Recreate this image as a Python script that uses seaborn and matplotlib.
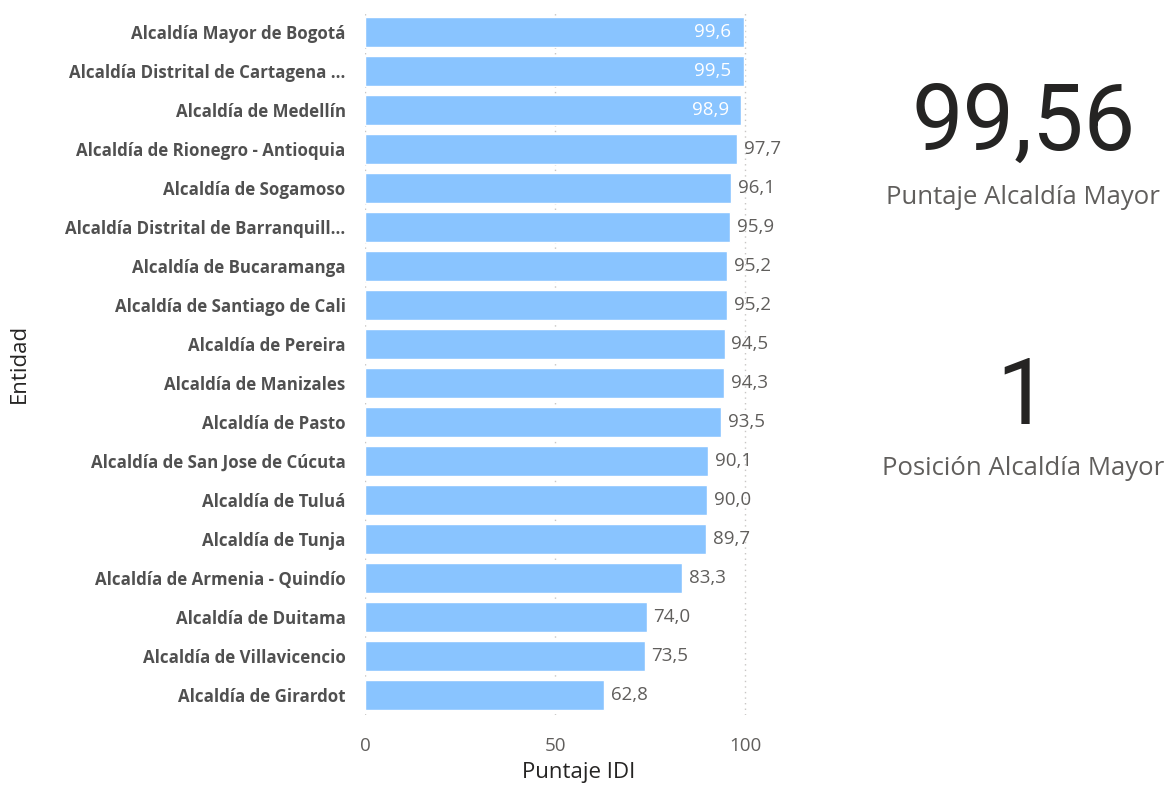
# Ranking IDI - Alcaldías
import pandas as pd
import matplotlib
matplotlib.use("Agg")
import matplotlib.pyplot as plt
import seaborn as sns

# Data
entidades = [
    "Alcaldía Mayor de Bogotá",
    "Alcaldía Distrital de Cartagena ...",
    "Alcaldía de Medellín",
    "Alcaldía de Rionegro - Antioquia",
    "Alcaldía de Sogamoso",
    "Alcaldía Distrital de Barranquill...",
    "Alcaldía de Bucaramanga",
    "Alcaldía de Santiago de Cali",
    "Alcaldía de Pereira",
    "Alcaldía de Manizales",
    "Alcaldía de Pasto",
    "Alcaldía de San Jose de Cúcuta",
    "Alcaldía de Tuluá",
    "Alcaldía de Tunja",
    "Alcaldía de Armenia - Quindío",
    "Alcaldía de Duitama",
    "Alcaldía de Villavicencio",
    "Alcaldía de Girardot",
]
puntaje = [99.6, 99.5, 98.9, 97.7, 96.1, 95.9, 95.2, 95.2, 94.5, 94.3,
           93.5, 90.1, 90.0, 89.7, 83.3, 74.0, 73.5, 62.8]
x_ticks = [0, 50, 100]

kpi_valor = "99,56"
kpi_valor_label = "Puntaje Alcaldía Mayor"
kpi_posicion = "1"
kpi_posicion_label = "Posición Alcaldía Mayor"

data = pd.DataFrame({"Entidad": entidades, "Puntaje IDI": puntaje})

# Style
sns.set_style("white")
plt.rcParams['font.family'] = ['Open Sans', 'DejaVu Sans']

grey = "#605E5C"
bar_color = "#89C4FF"

fig = plt.figure(figsize=(11.69, 7.87), dpi=100)
ax = fig.add_axes([0.3122, 0.0921, 0.345, 0.892])

sns.barplot(data=data, x="Puntaje IDI", y="Entidad", orient="h",
            color=bar_color, saturation=1, width=0.77, ax=ax, zorder=2)

ax.set_xlim(0, 106)
ax.set_ylim(len(entidades) - 0.5, -0.5)
ax.set_xticks(x_ticks)
ax.set_xticklabels([str(t) for t in x_ticks], color=grey, fontsize=13.5)
ax.tick_params(axis="x", length=0, pad=16)
ax.tick_params(axis="y", length=0, pad=14)
for lbl in ax.get_yticklabels():
    lbl.set_fontweight("bold")
    lbl.set_fontsize(12.2)
    lbl.set_color("#505050")

ax.grid(axis="x", color="#C8C6C4", linestyle=(0, (1, 3)), linewidth=1, zorder=0)
for s in ax.spines.values():
    s.set_visible(False)

ax.set_xlabel("Puntaje IDI", fontsize=16, color="#252423")
ax.xaxis.set_label_coords(0.53, -0.068)
ax.set_ylabel("Entidad", fontsize=16, color="#252423")
ax.yaxis.set_label_coords(-0.83, 0.5)

# Value labels
for i, v in enumerate(puntaje):
    txt = f"{v:.1f}".replace(".", ",")
    if v >= 98.5:
        ax.annotate(txt, (v, i), xytext=(-9, 0), textcoords="offset points",
                    ha="right", va="center", color="white", fontsize=13.5)
    else:
        ax.annotate(txt, (v, i), xytext=(5, 0), textcoords="offset points",
                    ha="left", va="center", color=grey, fontsize=13.5)

# KPI cards
fig.text(0.876, 0.842, kpi_valor, ha="center", va="center",
         fontsize=66, color="#252423", family="Roboto")
fig.text(0.875, 0.749, kpi_valor_label, ha="center", va="center",
         fontsize=18.5, color=grey)
fig.text(0.874, 0.494, kpi_posicion, ha="center", va="center",
         fontsize=66, color="#252423", family="Roboto")
fig.text(0.875, 0.405, kpi_posicion_label, ha="center", va="center",
         fontsize=18.5, color=grey)

fig.savefig("out.png", dpi=100)
